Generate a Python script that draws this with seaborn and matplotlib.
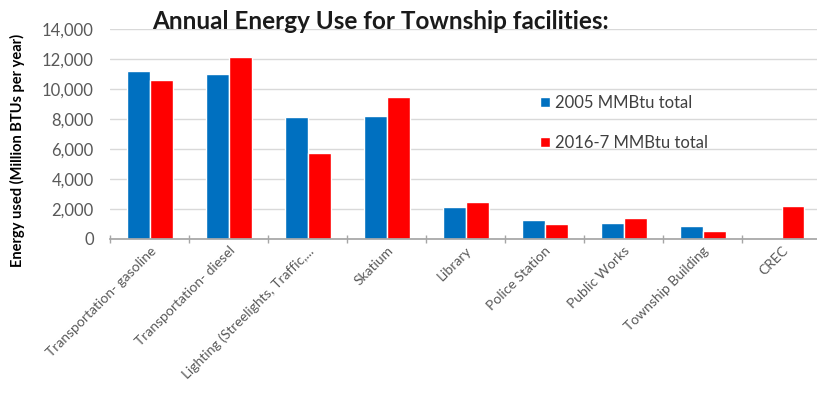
import numpy as np
import pandas as pd
import matplotlib
matplotlib.use("Agg")
import matplotlib.pyplot as plt
import seaborn as sns

# Chart data
facilities = ["Transportation- gasoline", "Transportation- diesel",
              "Lighting (Streelights, Traffic,...", "Skatium", "Library",
              "Police Station", "Public Works", "Township Building", "CREC"]
use_2005 = [11200, 11000, 8150, 8200, 2150, 1270, 1050, 890, np.nan]
use_2016 = [10600, 12100, 5700, 9450, 2450, 980, 1380, 560, 2220]
series_names = ["2005 MMBtu total", "2016-7 MMBtu total"]
y_ticks = [0, 2000, 4000, 6000, 8000, 10000, 12000, 14000]

data = pd.DataFrame({
    "Facility": facilities * 2,
    "Series": [series_names[0]] * len(facilities) + [series_names[1]] * len(facilities),
    "MMBtu": use_2005 + use_2016,
})

sns.set_theme(style="white")
plt.rcParams['font.family'] = ['Lato', 'DejaVu Sans']

fig = plt.figure(figsize=(8.17, 4.2), dpi=100)
ax = fig.add_axes([0.135, 0.431, 0.87, 0.50])

sns.barplot(data=data, x="Facility", y="MMBtu", hue="Series",
            palette=["#0070C0", "#FF0000"], width=0.58, saturation=1,
            ax=ax, legend=True)

ax.set_ylim(0, 14000)
ax.set_xlim(-0.5, len(facilities) - 0.5)
ax.set_yticks(y_ticks)
ax.set_yticklabels([f"{v:,}" for v in y_ticks], color="#595959", fontsize=12)
ax.yaxis.grid(True, color="#d9d9d9", linewidth=1)
ax.set_axisbelow(True)

# category boundary tick marks on the x axis
ax.set_xticks(np.arange(-0.5, len(facilities), 1), minor=True)
ax.tick_params(axis="x", which="minor", direction="inout", length=6,
               color="#a6a6a6", bottom=True)
ax.tick_params(axis="x", which="major", length=0, pad=4)
ax.tick_params(axis="y", which="major", length=0, pad=12)
ax.set_xticks(range(len(facilities)))
ax.set_xticklabels(facilities, rotation=45, ha="right", rotation_mode="anchor",
                   fontsize=10, color="#595959")

for side in ["top", "right", "left"]:
    ax.spines[side].set_visible(False)
ax.spines["bottom"].set_color("#a6a6a6")

ax.set_xlabel("")
ax.set_ylabel("Energy used (Million BTUs per year)", fontsize=10.5,
              fontweight="bold", color="#000000")
ax.yaxis.set_label_coords(-0.12, 0.42)

ax.legend(loc="center left", bbox_to_anchor=(0.584, 0.553), frameon=False,
          fontsize=12, handlelength=0.55, handleheight=0.55,
          labelspacing=1.4, handletextpad=0.35, labelcolor="#404040")

fig.text(0.186, 0.948, "Annual Energy Use for Township facilities:",
         fontsize=17.5, fontweight="bold", color="#1a1a1a", va="center")

fig.savefig("out.png", dpi=100)
